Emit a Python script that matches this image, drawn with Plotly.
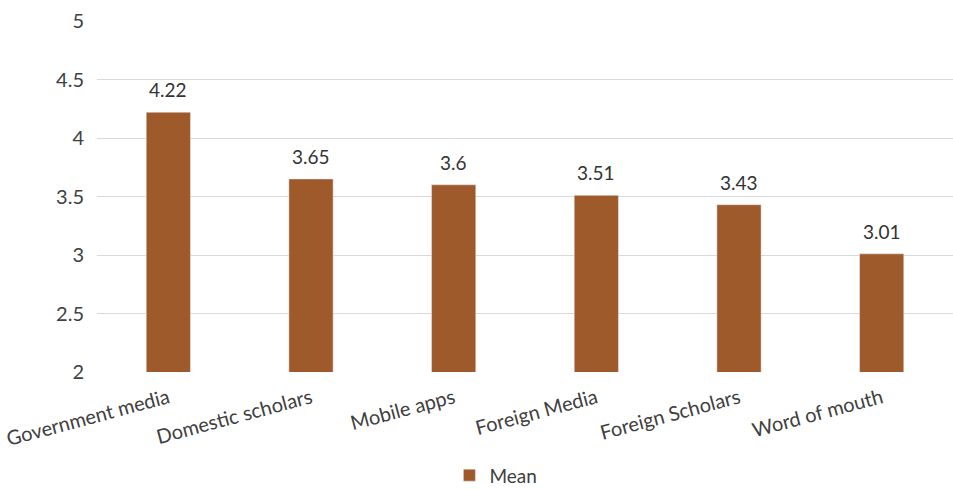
import plotly.graph_objects as go

categories = ["Government media", "Domestic scholars", "Mobile apps", "Foreign Media", "Foreign Scholars", "Word of mouth"]
means = [4.22, 3.65, 3.6, 3.51, 3.43, 3.01]
labels = ["4.22", "3.65", "3.6", "3.51", "3.43", "3.01"]

FONT = "Lato, sans-serif"
fig = go.Figure()
fig.add_trace(go.Bar(
    x=categories, y=means, name="Mean",
    marker=dict(color="#9E5A2A"),
    width=0.31,
))
for c, v, t in zip(categories, means, labels):
    fig.add_annotation(x=c, y=v, text=t, showarrow=False, yanchor="bottom", yshift=9,
                       font=dict(size=19, color="#333333", family=FONT))

fig.update_layout(
    width=953, height=490,
    margin=dict(l=97, r=0, t=21, b=118, autoexpand=False),
    plot_bgcolor="white", paper_bgcolor="white",
    font=dict(family=FONT, size=19, color="#404040"),
    showlegend=True,
    legend=dict(orientation="h", x=0.466, xanchor="center",
                yref="container", y=0.03, yanchor="middle",
                font=dict(size=19, color="#404040")),
)
fig.update_yaxes(range=[2, 5], dtick=0.5, tick0=2, showgrid=True, gridcolor="#d9d9d9",
                 gridwidth=1.3, zeroline=False, showline=False, ticks="",
                 ticklabelstandoff=12, automargin=False,
                 tickfont=dict(size=20, color="#404040"))
fig.update_xaxes(tickangle=-15, showline=False, ticks="", showgrid=False,
                 ticklabelstandoff=10, automargin=False,
                 tickfont=dict(size=20, color="#404040"))

fig.write_html("out.html")
